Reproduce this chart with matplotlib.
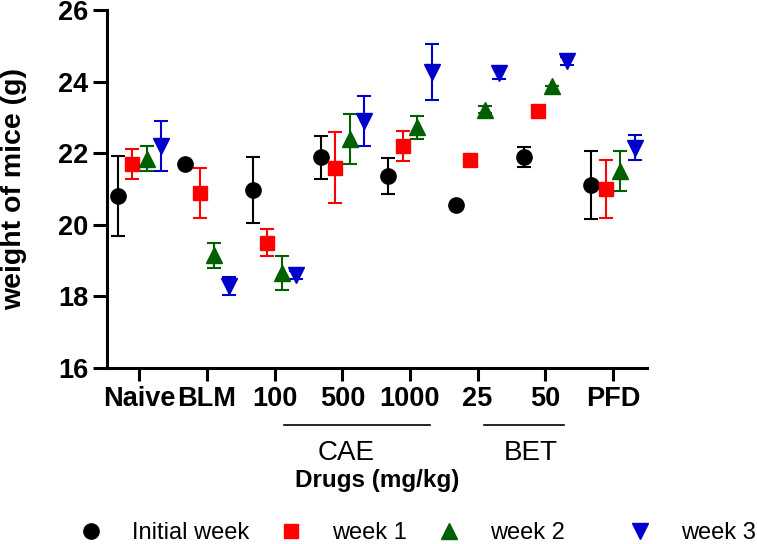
import numpy as np
import matplotlib
matplotlib.use("Agg")
import matplotlib.pyplot as plt
from matplotlib.lines import Line2D
import matplotlib.transforms as mtransforms

plt.rcParams['font.family'] = ['Liberation Sans', 'DejaVu Sans']

# groups on the x axis
groups = ['Naive', 'BLM', '100', '500', '1000', '25', '50', 'PFD']

# mean weights (g) and error per week
initial = [20.80, 21.71, 20.97, 21.88, 21.36, 20.56, 21.89, 21.12]
initial_err = [1.12, 0.0, 0.92, 0.60, 0.50, 0.0, 0.28, 0.95]
week1 = [21.71, 20.89, 19.50, 21.60, 22.20, 21.80, 23.18, 21.01]
week1_err = [0.42, 0.71, 0.38, 0.98, 0.42, 0.0, 0.0, 0.81]
week2 = [21.85, 19.15, 18.65, 22.40, 22.73, 23.22, 23.87, 21.50]
week2_err = [0.35, 0.35, 0.47, 0.70, 0.32, 0.10, 0.0, 0.56]
week3 = [22.20, 18.29, 18.60, 22.90, 24.27, 24.24, 24.58, 22.15]
week3_err = [0.70, 0.25, 0.12, 0.70, 0.78, 0.18, 0.12, 0.35]

series_labels = ['Initial week', 'week 1', 'week 2', 'week 3']

series = [initial, week1, week2, week3]
errors = [initial_err, week1_err, week2_err, week3_err]
markers = ['o', 's', '^', 'v']
colors = ['black', '#ff0000', '#006000', '#0000cc']
msizes = [11, 10.5, 11, 11]
offsets = [-0.32, -0.107, 0.107, 0.32]

fig = plt.figure(figsize=(7.57, 5.44), dpi=100)
ax = fig.add_axes([107 / 757, 1 - 368 / 544, (646.7 - 107) / 757, (368 - 10) / 544])

x = np.arange(len(groups))
for vals, err, m, c, ms, off in zip(series, errors, markers, colors, msizes, offsets):
    ax.errorbar(x + off, vals, yerr=err, fmt=m, color=c, ms=ms, mec=c,
                elinewidth=1.5, capsize=4.8, capthick=1.5)

ax.set_xlim(-0.48, 7.5)
ax.set_ylim(16, 26)
ax.set_yticks([16, 18, 20, 22, 24, 26])
ax.set_xticks(x)
ax.set_xticklabels(groups, fontsize=19.5, fontweight='bold')
for lab in ax.get_yticklabels():
    lab.set_fontsize(19.5)
    lab.set_fontweight('bold')

ax.spines['top'].set_visible(False)
ax.spines['right'].set_visible(False)
ax.spines['left'].set_linewidth(2.2)
ax.spines['bottom'].set_linewidth(2.2)
ax.tick_params(axis='y', length=10, width=2.2, pad=3.5)
ax.tick_params(axis='x', length=9.5, width=2.2, pad=3.5)

ax.set_ylabel('weight of mice (g)', fontsize=20.5, fontweight='bold')
ax.yaxis.set_label_coords(-0.148, 0.5)

# group brackets under the axis
trans = mtransforms.blended_transform_factory(ax.transData, ax.transAxes)
ax.plot([2.13, 4.30], [-0.159, -0.159], color='black', lw=1.2, transform=trans, clip_on=False)
ax.plot([5.10, 6.27], [-0.159, -0.159], color='black', lw=1.2, transform=trans, clip_on=False)
ax.text(3.06, -0.257, 'CAE', fontsize=20, ha='center', va='baseline', transform=trans)
ax.text(5.78, -0.257, 'BET', fontsize=20, ha='center', va='baseline', transform=trans)
ax.text(3.52, -0.332, 'Drugs (mg/kg)', fontsize=17.5, fontweight='bold',
        ha='center', va='baseline', transform=trans)

handles = [Line2D([], [], ls='none', marker=m, color=c, ms=ms)
           for m, c, ms in zip(markers, colors, msizes)]
leg_kw = dict(loc='center left', frameon=False, fontsize=17, handlelength=1.0,
              handletextpad=1.24, columnspacing=1.28, borderpad=0, borderaxespad=0)
fig.legend(handles[:3], series_labels[:3], ncol=3,
           bbox_to_anchor=(79 / 757, 1 - 533 / 544), **leg_kw)
fig.legend(handles[3:], series_labels[3:], ncol=1,
           bbox_to_anchor=(628 / 757, 1 - 533 / 544), **leg_kw)

fig.savefig('out.png', dpi=100)
